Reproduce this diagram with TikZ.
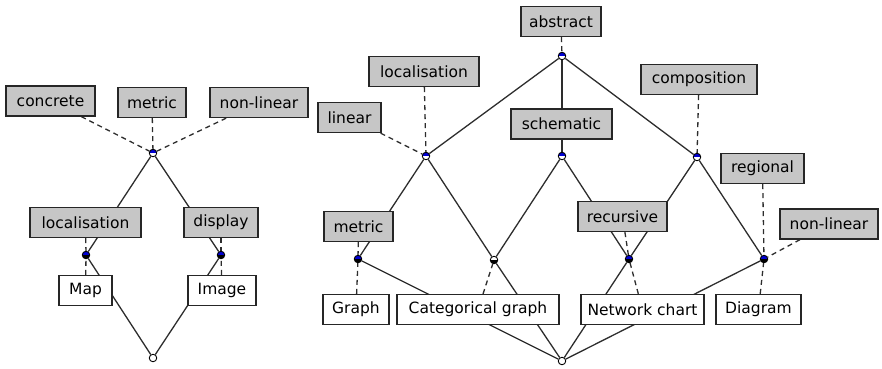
\documentclass[tikz,border=0pt]{standalone}
\usepackage{fontspec}
\setmainfont{DejaVu Sans}
\usetikzlibrary{backgrounds}
\definecolor{boxgray}{RGB}{198,198,198}
\definecolor{linecol}{RGB}{45,45,45}
\definecolor{dotblue}{RGB}{0,0,210}
\begin{document}
\begin{tikzpicture}[x=1pt,y=-1pt,
  lbl/.style={draw=black!85, line width=1.3pt, inner sep=0pt, minimum height=30pt,
    font=\fontsize{15.5}{18}\selectfont, text=black},
  attrbox/.style={lbl, fill=boxgray},
  objbox/.style={lbl, fill=white},
  conc/.style={circle, draw=black, line width=0.9pt, inner sep=0pt, minimum size=7.5pt, fill=white},
  ca/.style={conc, path picture={\fill[dotblue] (path picture bounding box.west) rectangle (path picture bounding box.north east);}},
  co/.style={conc, path picture={\fill[black] (path picture bounding box.south west) rectangle (path picture bounding box.east);}},
  cb/.style={conc, path picture={\fill[dotblue] (path picture bounding box.west) rectangle (path picture bounding box.north east);
     \fill[black] (path picture bounding box.south west) rectangle (path picture bounding box.east);}},
  edge/.style={draw=linecol, line width=1.3pt},
  dedge/.style={draw=linecol, line width=1.3pt, dash pattern=on 5pt off 4pt},
]
\useasboundingbox (0,0) rectangle (882,368);
% ---------- left lattice ----------
\node[attrbox, minimum width=89pt] (concrete) at (50.5,101) {concrete};
\node[attrbox, minimum width=68pt] (metricA) at (152,102.5) {metric};
\node[attrbox, minimum width=98pt] (nonlinA) at (259,102.5) {non-linear};
\node[attrbox, minimum width=111pt] (locA) at (85.5,222.5) {localisation};
\node[attrbox, minimum width=74pt] (display) at (221,222.5) {display};
\node[objbox, minimum width=53pt] (map) at (85.5,290.5) {Map};
\node[objbox, minimum width=68pt] (image) at (222,290.5) {Image};
\node[ca] (T1) at (153,153) {};
\node[cb] (L1) at (86,255) {};
\node[cb] (R1) at (221,255) {};
\node[conc] (B1) at (153,358) {};
% ---------- right lattice ----------
\node[attrbox, minimum width=80pt] (abstract) at (561,21.5) {abstract};
\node[attrbox, minimum width=110pt] (locB) at (424,71.5) {localisation};
\node[attrbox, minimum width=63pt] (linear) at (349.5,117.5) {linear};
\node[attrbox, minimum width=101pt] (schematic) at (561.5,124) {schematic};
\node[attrbox, minimum width=116pt] (composition) at (699,79.5) {composition};
\node[attrbox, minimum width=83pt] (regional) at (762.5,168.5) {regional};
\node[attrbox, minimum width=98pt] (nonlinB) at (829,224) {non-linear};
\node[attrbox, minimum width=89pt] (recursive) at (622.5,216.5) {recursive};
\node[attrbox, minimum width=69pt] (metricB) at (358.5,226.5) {metric};
\node[objbox, minimum width=66pt] (graph) at (356,309.5) {Graph};
\node[objbox, minimum width=162pt] (catgraph) at (478,309.5) {Categorical graph};
\node[objbox, minimum width=123pt] (network) at (642.5,309.5) {Network chart};
\node[objbox, minimum width=85pt] (diagram) at (758.5,309.5) {Diagram};
\node[ca] (T2) at (562,56) {};
\node[ca] (A) at (426,156) {};
\node[ca] (S) at (562,156) {};
\node[ca] (C) at (697,157) {};
\node[cb] (M) at (358,259) {};
\node[co] (G) at (494,260) {};
\node[cb] (R) at (629,259) {};
\node[cb] (D) at (764,259) {};
\node[conc] (B2) at (562,361) {};
% ---------- connectors ----------
\begin{pgfonlayer}{background}
  \draw[edge] (T1) -- (L1);
  \draw[edge] (T1) -- (R1);
  \draw[edge] (L1) -- (B1);
  \draw[edge] (R1) -- (B1);
  \draw[dedge] (concrete) -- (T1);
  \draw[dedge] (metricA) -- (T1);
  \draw[dedge] (nonlinA) -- (T1);
  \draw[dedge] (locA) -- (L1);
  \draw[dedge] (map) -- (L1);
  \draw[dedge] (display) -- (R1);
  \draw[dedge] (image) -- (R1);
  \draw[edge] (T2) -- (A);
  \draw[edge] (T2) -- (S);
  \draw[edge] (T2) -- (C);
  \draw[edge] (A) -- (M);
  \draw[edge] (A) -- (G);
  \draw[edge] (S) -- (G);
  \draw[edge] (S) -- (R);
  \draw[edge] (C) -- (R);
  \draw[edge] (C) -- (D);
  \draw[edge] (M) -- (B2);
  \draw[edge] (G) -- (B2);
  \draw[edge] (R) -- (B2);
  \draw[edge] (D) -- (B2);
  \draw[dedge] (abstract) -- (T2);
  \draw[dedge] (locB) -- (A);
  \draw[dedge] (linear) -- (A);
  \draw[dedge] (schematic) -- (S);
  \draw[dedge] (composition) -- (C);
  \draw[dedge] (regional) -- (D);
  \draw[dedge] (nonlinB) -- (D);
  \draw[dedge] (recursive) -- (R);
  \draw[dedge] (metricB) -- (M);
  \draw[dedge] (graph) -- (M);
  \draw[dedge] (catgraph) -- (G);
  \draw[dedge] (network) -- (R);
  \draw[dedge] (diagram) -- (D);
\end{pgfonlayer}
\end{tikzpicture}
\end{document}
